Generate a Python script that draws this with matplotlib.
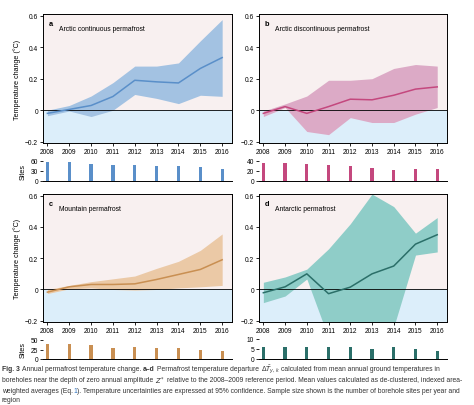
import numpy as np
import matplotlib
matplotlib.use("Agg")
import matplotlib.pyplot as plt

plt.rcParams['font.family'] = ['Liberation Sans', 'DejaVu Sans']

# Data
years = [2008, 2009, 2010, 2011, 2012, 2013, 2014, 2015, 2016]

a_mean = [-0.02, 0.005, 0.03, 0.087, 0.19, 0.18, 0.173, 0.265, 0.334]
a_upper = [0.0, 0.03, 0.09, 0.175, 0.28, 0.28, 0.30, 0.44, 0.575]
a_lower = [-0.035, -0.005, -0.04, 0.0, 0.10, 0.075, 0.042, 0.095, 0.088]
a_sites = [56, 56, 50, 49, 49, 46, 45, 43, 35]

b_mean = [-0.02, 0.023, -0.02, 0.023, 0.07, 0.066, 0.095, 0.134, 0.148]
b_upper = [-0.005, 0.04, 0.09, 0.19, 0.19, 0.20, 0.265, 0.29, 0.28]
b_lower = [-0.04, 0.017, -0.135, -0.155, -0.047, -0.078, -0.078, -0.025, 0.017]
b_sites = [37, 37, 35, 32, 31, 26, 23, 25, 25]

c_mean = [-0.017, 0.017, 0.032, 0.032, 0.036, 0.064, 0.096, 0.128, 0.19]
c_upper = [0.0, 0.026, 0.05, 0.068, 0.086, 0.135, 0.18, 0.25, 0.355]
c_lower = [-0.026, 0.004, 0.01, 0.0, -0.004, 0.0, 0.01, 0.017, 0.026]
c_sites = [40, 40, 37, 30, 32, 30, 29, 24, 21]

d_mean = [-0.021, 0.017, 0.10, -0.027, 0.015, 0.10, 0.15, 0.29, 0.35]
d_upper = [0.046, 0.08, 0.13, 0.26, 0.42, 0.61, 0.53, 0.36, 0.46]
d_lower = [-0.084, -0.042, 0.067, -0.31, -0.40, -0.40, -0.24, 0.22, 0.24]
d_sites = [6, 6, 6, 6, 6, 5, 6, 5, 4]

panels = [
    ("a", "Arctic continuous permafrost", a_mean, a_upper, a_lower, a_sites,
     "#a3c2e2", "#5a8fc9", [0, 30, 60]),
    ("b", "Arctic discontinuous permafrost", b_mean, b_upper, b_lower, b_sites,
     "#dcaac6", "#c4487e", [0, 20, 40]),
    ("c", "Mountain permafrost", c_mean, c_upper, c_lower, c_sites,
     "#ebc9a6", "#c98f52", [0, 25, 50]),
    ("d", "Antarctic permafrost", d_mean, d_upper, d_lower, d_sites,
     "#8fcdc8", "#2b6f69", [0, 5, 10]),
]

W, H = 474, 406
fig = plt.figure(figsize=(W / 100, H / 100), dpi=100)

def box(x0, x1, y0, y1):
    # pixel box -> figure fraction
    return [x0 / W, 1 - y1 / H, (x1 - x0) / W, (y1 - y0) / H]

main_boxes = [box(43, 232, 15.4, 144), box(259, 447, 15.4, 144),
              box(43, 232, 195.4, 323), box(259, 447, 195.4, 323)]
bar_boxes = [box(43, 232, 162, 182), box(259, 447, 162, 182),
             box(43, 232, 341, 360), box(259, 447, 340, 360)]

fs = 4.8
for i, (lab, title, mean, up, lo, sites, fcol, lcol, sticks) in enumerate(panels):
    ax = fig.add_axes(main_boxes[i])
    ax.set_xlim(2007.8, 2016.45)
    ax.set_ylim(-0.208, 0.608)
    ax.axhspan(0, 1, color="#f8f0f0", zorder=0, lw=0)
    ax.axhspan(-1, 0, color="#dceefa", zorder=0, lw=0)
    ax.fill_between(years, lo, up, color=fcol, lw=0, zorder=1)
    ax.axhline(0, color="black", lw=0.6, zorder=2)
    ax.plot(years, mean, color=lcol, lw=1.1, zorder=3)
    ax.set_yticks([-0.2, 0, 0.2, 0.4, 0.6])
    ax.set_yticklabels(["\u22120.2", "0", "0.2", "0.4", "0.6"])
    ax.set_xticks(years)
    ax.tick_params(labelsize=fs, length=2, width=0.6, pad=1.5)
    for s in ax.spines.values():
        s.set_linewidth(0.7)
    ax.text(0.03, 0.955, lab, transform=ax.transAxes, fontsize=5.3,
            fontweight="bold", va="top", ha="left")
    ax.text(0.085, 0.915, title, transform=ax.transAxes, fontsize=4.9,
            va="top", ha="left")
    if i % 2 == 0:
        ax.set_ylabel("Temperature change (\u00b0C)", fontsize=5.1, labelpad=3)

    bx = fig.add_axes(bar_boxes[i])
    bx.bar(years, sites, width=0.15, color=lcol, zorder=2)
    bx.set_xlim(2007.8, 2016.45)
    bx.set_ylim(0, sticks[-1])
    bx.set_yticks(sticks)
    bx.set_xticks([])
    bx.patch.set_visible(False)
    for s in ["top", "right", "left"]:
        bx.spines[s].set_visible(False)
    bx.spines["bottom"].set_linewidth(0.7)
    bx.tick_params(labelsize=fs, length=2, width=0.6, pad=1.5)
    if i % 2 == 0:
        bx.set_ylabel("Sites", fontsize=5.1, labelpad=3)

# Caption, drawn piece by piece so bold / math / link parts can differ
cap_fs = 4.85
cap_col = "#333333"
B, N, L = "bold", "normal", "link"
caption = [
    [("Fig. 3", B), ("Annual permafrost temperature change.", N), ("a\u2013d", B),
     ("Permafrost temperature departure", N), (r"$\Delta\bar{T}_{y,k}$", N),
     ("calculated from mean annual ground temperatures in", N)],
    [("boreholes near the depth of zero annual amplitude", N), (r"$Z^{*}$", N),
     ("relative to the 2008\u20132009 reference period. Mean values calculated "
      "as de-clustered, indexed area-", N)],
    [("weighted averages (Eq.", N), ("1", L),
     ("). Temperature uncertainties are expressed at 95% confidence. Sample "
      "size shown is the number of borehole sites per year and", N)],
    [("region", N)],
]
ys = [370, 381, 391.5, 401]
renderer = fig.canvas.get_renderer()
space = 1.9
for parts, yy in zip(caption, ys):
    x = 2.0
    prev = None
    for txt, kind in parts:
        if prev is not None and not (kind == L or prev == L):
            x += space
        t = fig.text(x / W, 1 - yy / H, txt, fontsize=cap_fs, va="center",
                     ha="left", color="#2a6ebb" if kind == L else cap_col,
                     fontweight="bold" if kind == B else "normal")
        x += t.get_window_extent(renderer).width
        prev = kind

fig.savefig("out.png", dpi=100)
